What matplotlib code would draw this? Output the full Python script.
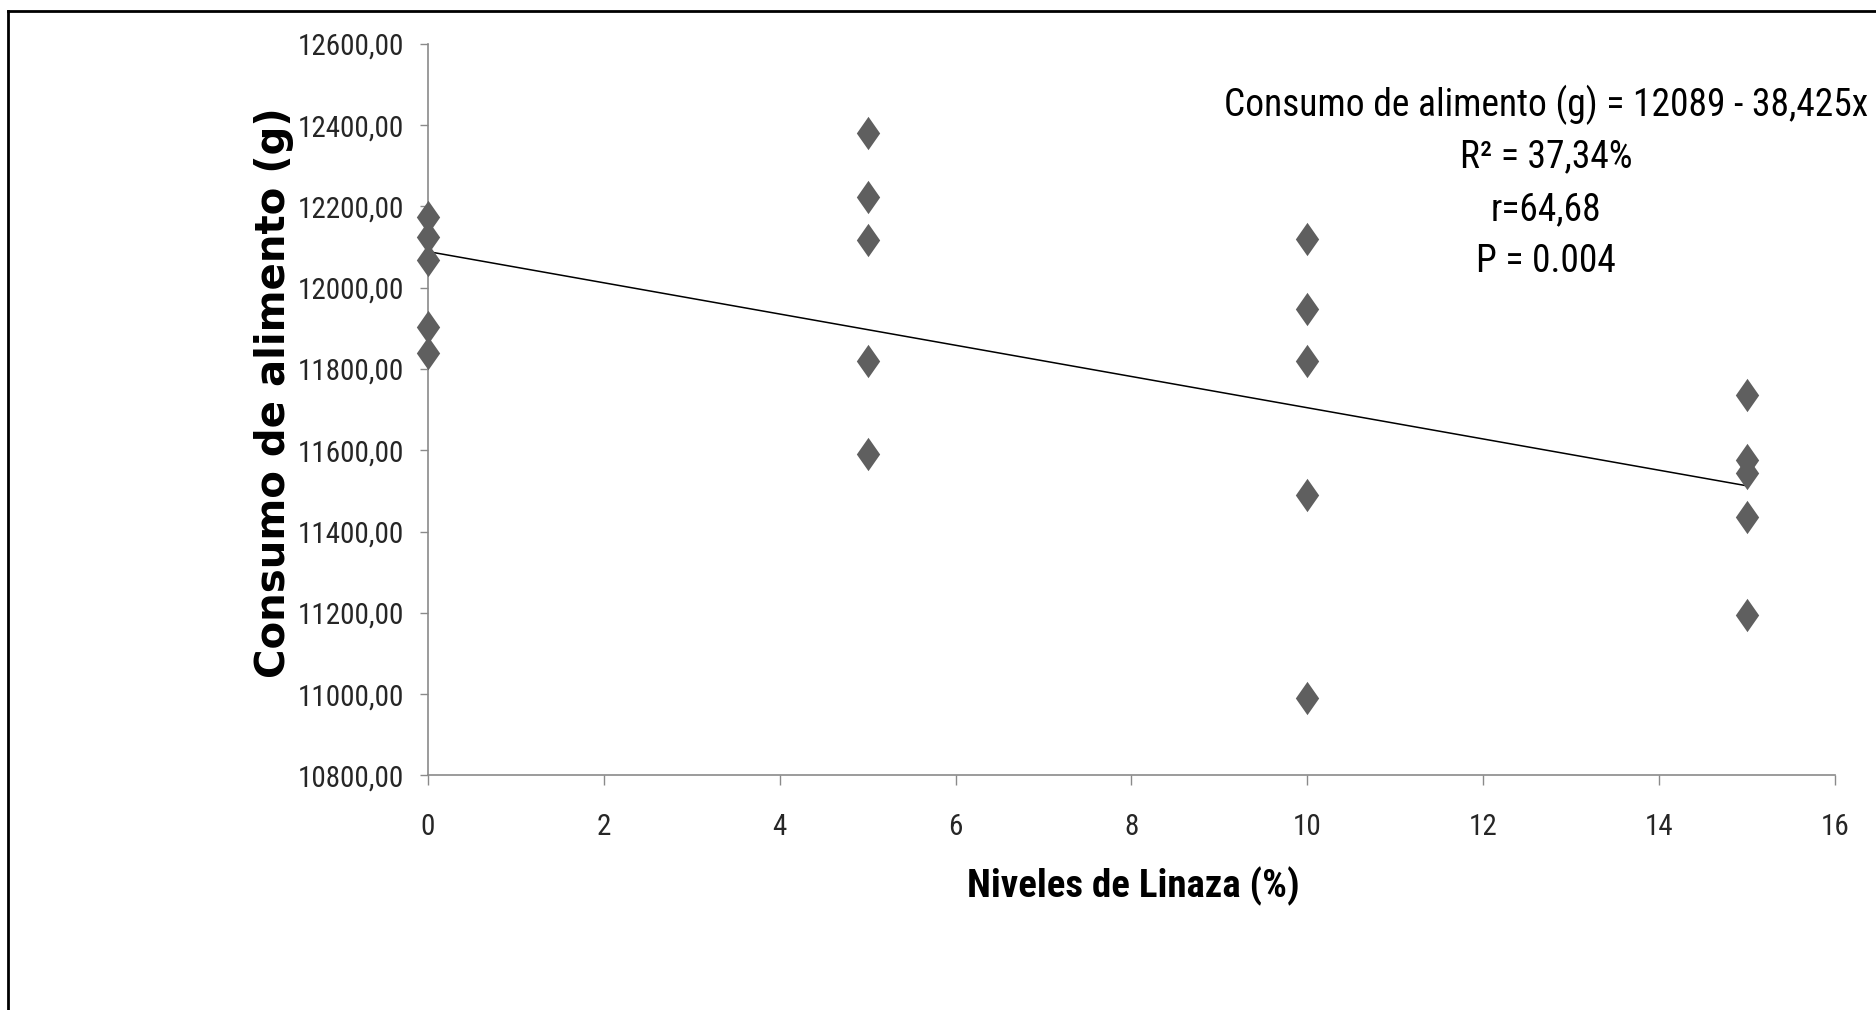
#!/usr/bin/env python3
"""
plot.py
- Consumo de alimento vs niveles de linaza, con la recta de regresion
- Saves out.png
"""
import matplotlib

matplotlib.use("Agg")
import matplotlib.pyplot as plt
import numpy as np
from matplotlib import font_manager as fm
from matplotlib.lines import Line2D
from matplotlib.ticker import FuncFormatter, MultipleLocator

# -------------------------
# Data
# -------------------------
niveles = [0, 5, 10, 15]
consumo_0 = [12175, 12124, 12068, 11904, 11840]
consumo_5 = [12380, 12224, 12117, 11820, 11591]
consumo_10 = [12121, 11948, 11820, 11490, 10990]
consumo_15 = [11736, 11576, 11543, 11437, 11195]

# regression reported on the chart
intercepto = 12089
pendiente = -38.425

anotaciones = [
    "Consumo de alimento (g) = 12089 - 38,425x",
    "R² = 37,34%",
    "r=64,68",
    "P = 0.004",
]

# -------------------------
# Fonts: prefer a narrow face like the original
# -------------------------
installed = {f.name for f in fm.fontManager.ttflist}


def pick(*names):
    for n in names:
        if n in installed:
            return n
    return "DejaVu Sans"


NARROW = pick("Liberation Sans Narrow", "Roboto Condensed", "Liberation Sans")
WIDE_BOLD = pick("DejaVu Sans")

# -------------------------
# Figure
# -------------------------
fig = plt.figure(figsize=(18.76, 10.10), dpi=100)
fig.patch.set_facecolor("white")
ax = fig.add_axes([0.2281, 0.2322, 0.7500, 0.7244])

consumo_por_nivel = [consumo_0, consumo_5, consumo_10, consumo_15]
xs = np.repeat(niveles, [len(c) for c in consumo_por_nivel])
ys = np.concatenate(consumo_por_nivel)

diamante = [(0, 1), (0.7, 0), (0, -1), (-0.7, 0), (0, 1)]
ax.plot(xs, ys, linestyle="none", marker=diamante, markersize=24,
        color="#5f5f5f", markeredgewidth=0, zorder=3, clip_on=False)

x_line = np.array([min(niveles), max(niveles)])
ax.plot(x_line, intercepto + pendiente * x_line, color="black", lw=1.1, zorder=2)

ax.set_xlim(0, 16)
ax.set_ylim(10800, 12600)
ax.xaxis.set_major_locator(MultipleLocator(2))
ax.yaxis.set_major_locator(MultipleLocator(200))
ax.yaxis.set_major_formatter(FuncFormatter(lambda v, p: f"{v:.2f}".replace(".", ",")))

for side in ["top", "right"]:
    ax.spines[side].set_visible(False)
for side in ["left", "bottom"]:
    ax.spines[side].set_color("#8a8a8a")
    ax.spines[side].set_linewidth(1.2)

ax.tick_params(axis="y", direction="out", length=6, width=1.0, color="#8a8a8a",
               pad=11, labelsize=21, labelcolor="#262626")
ax.tick_params(axis="x", direction="out", length=7, width=1.0, color="#8a8a8a",
               pad=20, labelsize=21, labelcolor="#262626")
for lab in ax.get_xticklabels() + ax.get_yticklabels():
    lab.set_fontfamily(NARROW)

# axis titles
fig.text(0.604, 0.123, "Niveles de Linaza (%)", ha="center", va="center",
         fontsize=28, fontweight="bold", family=NARROW)
fig.text(0.146, 0.611, "Consumo de alimento (g)", ha="center", va="center",
         rotation=90, fontsize=29, fontweight="bold", family=WIDE_BOLD)

# regression annotation
y_lineas = [0.896, 0.845, 0.792, 0.741]
for txt, yy in zip(anotaciones, y_lineas):
    fig.text(0.824, yy, txt, ha="center", va="center", fontsize=27,
             family=NARROW, color="black")

# outer frame (only left and top edges are inside the image)
x0, y0 = 8 / 1876, 1 - 11 / 1010
fig.add_artist(Line2D([x0, x0], [0, y0], transform=fig.transFigure, color="black", lw=2))
fig.add_artist(Line2D([x0, 1], [y0, y0], transform=fig.transFigure, color="black", lw=2))

fig.savefig("out.png", dpi=100, facecolor="white")
